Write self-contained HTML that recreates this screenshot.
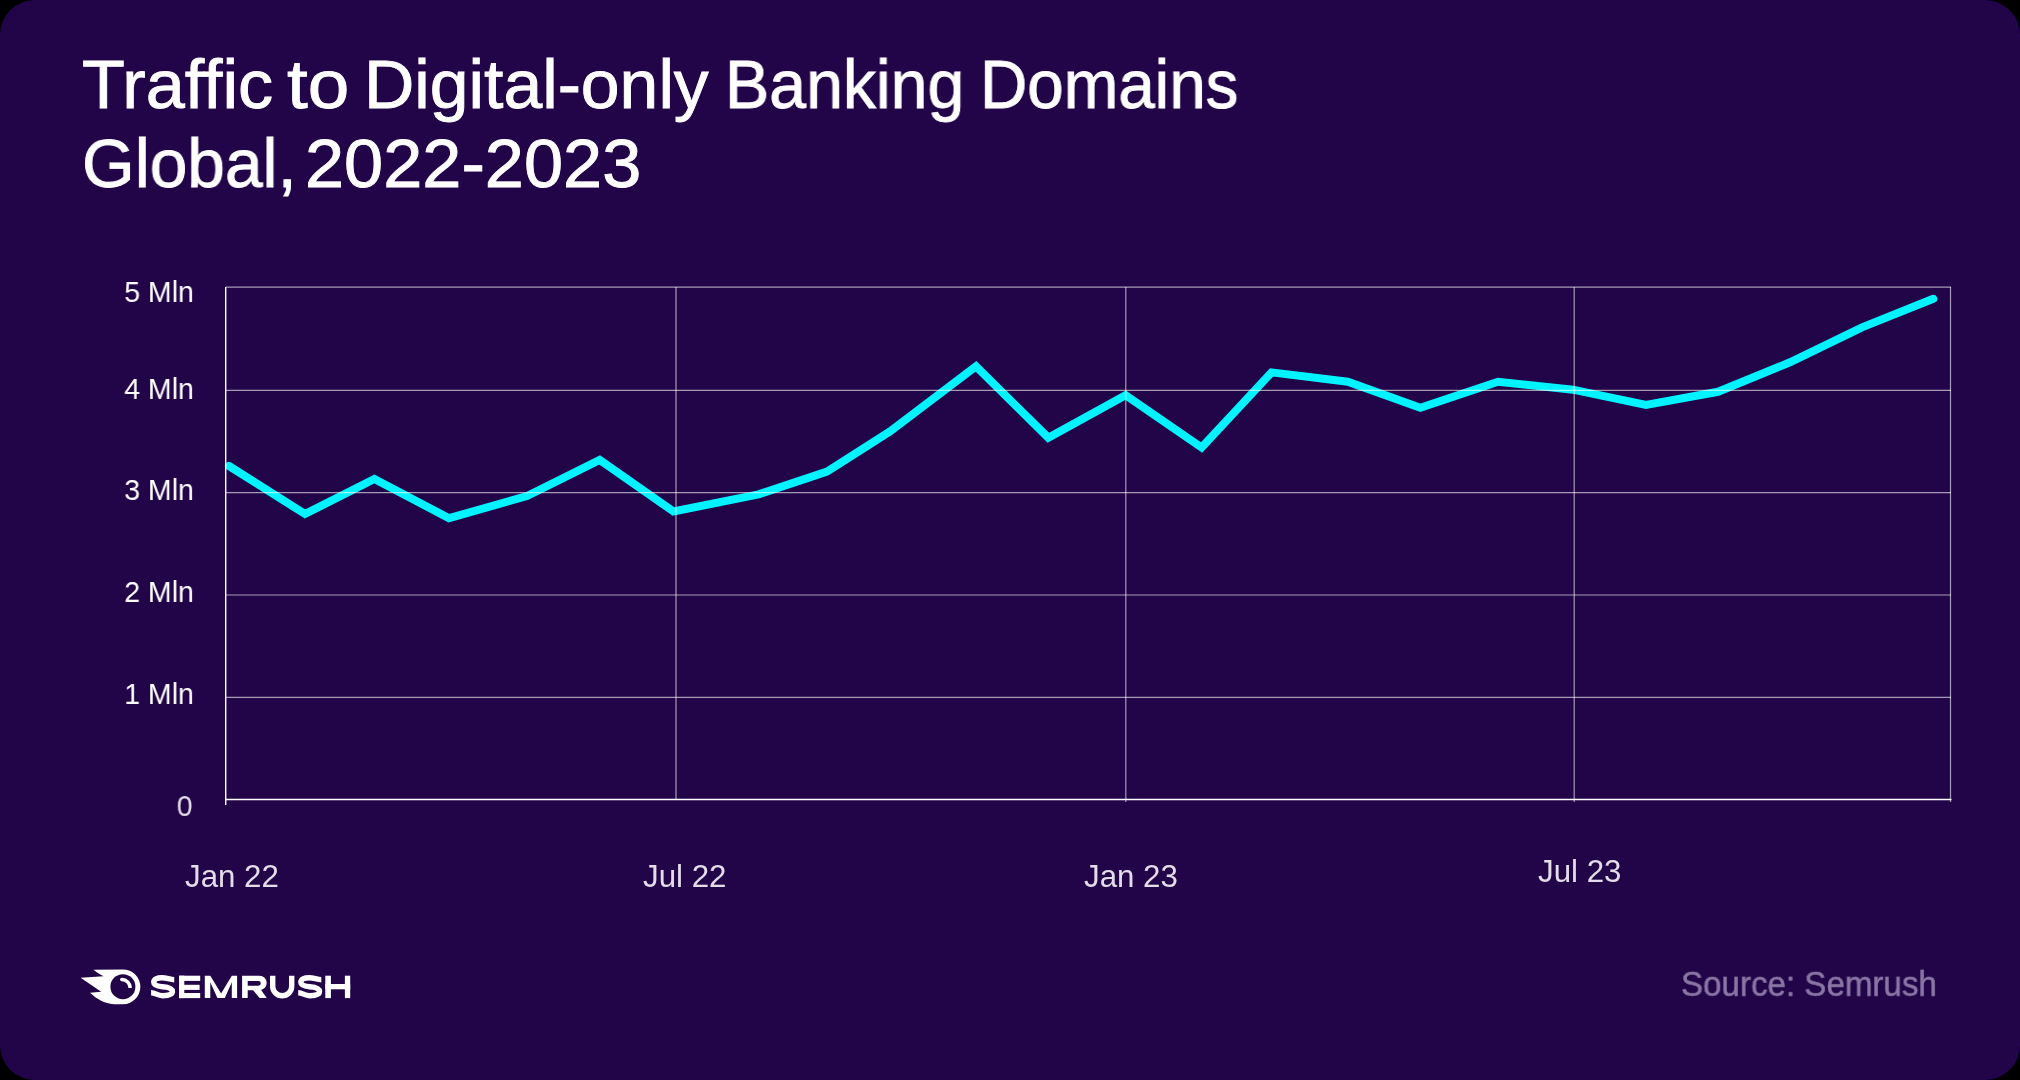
<!DOCTYPE html>
<html>
<head>
<meta charset="utf-8">
<style>
html,body{margin:0;padding:0;background:#000;width:2020px;height:1080px;overflow:hidden;}
#card{position:absolute;left:0;top:0;width:2020px;height:1080px;background:#220548;border-radius:35px;overflow:hidden;}
.t{position:absolute;font-family:"Liberation Sans",sans-serif;white-space:nowrap;line-height:1;will-change:transform;}
.title{color:#fff;font-size:69px;transform-origin:0 0;-webkit-text-stroke:0.9px #fff;}
.yl{color:#fff;font-size:29.8px;right:1826.5px;text-align:right;transform-origin:100% 50%;transform:scaleX(0.955);}
.xl{color:#e4dde9;font-size:31.25px;}
svg{position:absolute;left:0;top:0;}
</style>
</head>
<body>
<div id="card">
  <div class="t title" style="left:81.90px;top:50.3px;transform:scale(1.017,1);">Traffic</div>
  <div class="t title" style="left:287.10px;top:50.3px;transform:scale(1.082,1);">to</div>
  <div class="t title" style="left:364.05px;top:50.3px;transform:scale(1.010,1);">Digital-only</div>
  <div class="t title" style="left:724.90px;top:50.3px;transform:scale(0.960,1);">Banking</div>
  <div class="t title" style="left:980.35px;top:50.3px;transform:scale(0.949,1);">Domains</div>
  <div class="t title" style="left:82.16px;top:128.7px;transform:scale(0.981,1);">Global,</div>
  <div class="t title" style="left:305.44px;top:128.7px;transform:scale(1.019,1);">2022-2023</div>

  <svg width="2020" height="1080" viewBox="0 0 2020 1080">
    <polyline fill="none" stroke="#00f4ff" stroke-width="8" stroke-linejoin="miter" stroke-linecap="round"
      points="229,466 305,514 374.4,479 449,518.2 527,496 599.7,460 673.5,511.5 758.5,494.4 827,471.5 890,431.4 976,366.3 1048.3,437.7 1125.6,395.3 1201.6,447.5 1271.5,372.4 1347.8,381.7 1420.3,407.7 1498,381.8 1573,389.7 1646,405 1718,391.8 1790,362.3 1862,327.4 1933.3,298.8"/>
    <g stroke="rgba(255,255,255,0.6)" stroke-width="1.2" fill="none">
      <line x1="226" y1="287.2" x2="1951" y2="287.2"/>
      <line x1="226" y1="390.4" x2="1951" y2="390.4"/>
      <line x1="226" y1="492.6" x2="1951" y2="492.6"/>
      <line x1="226" y1="595" x2="1951" y2="595"/>
      <line x1="226" y1="697.3" x2="1951" y2="697.3"/>
      <line x1="676" y1="287" x2="676" y2="800"/>
      <line x1="1125.8" y1="287" x2="1125.8" y2="802"/>
      <line x1="1574.2" y1="287" x2="1574.2" y2="802"/>
      <line x1="1950.5" y1="287" x2="1950.5" y2="802"/>
    </g>
    <g stroke="#fff" stroke-width="1.4" fill="none">
      <line x1="225.7" y1="287" x2="225.7" y2="805"/>
      <line x1="225" y1="799.5" x2="1951.5" y2="799.5"/>
    </g>
  </svg>

  <div class="t yl" style="top:277px;">5 Mln</div>
  <div class="t yl" style="top:374px;">4 Mln</div>
  <div class="t yl" style="top:475px;">3 Mln</div>
  <div class="t yl" style="top:577px;">2 Mln</div>
  <div class="t yl" style="top:679px;">1 Mln</div>
  <div class="t yl" style="top:791px;right:1827.5px;color:#e4dde9;">0</div>

  <div class="t xl" style="left:185px;top:860.5px;">Jan 22</div>
  <div class="t xl" style="left:643px;top:860.5px;">Jul 22</div>
  <div class="t xl" style="left:1084px;top:860.5px;">Jan 23</div>
  <div class="t xl" style="left:1538px;top:855.5px;">Jul 23</div>

  <!-- logo -->
  <svg width="2020" height="1080" viewBox="0 0 2020 1080">
    <path fill="#fff" d="M93.5,969.8 L123,969.5 A17.35,17.35 0 0 1 123,1004.2 L114,1004.2 C104.5,1004 96,998.5 90,992.8 L101.2,991.7 L80.6,977.8 L103.5,976.3 C100,974.6 96.2,972.3 93.5,969.8 Z"/>
    <circle cx="122.9" cy="986.7" r="12.5" fill="#220548"/>
    <path d="M121.8,979.6 A8.4,8.4 0 0 1 130.2,988" stroke="#fff" stroke-width="3.5" fill="none"/>
    <circle cx="121.8" cy="979.6" r="1.75" fill="#fff"/>
  </svg>
  <svg width="2020" height="1080" viewBox="0 0 2020 1080">
    <g fill="#fff">
      <path fill="none" stroke="#fff" stroke-width="5.4" d="M174.20,979.7 C170.00,979.7 166.50,977.7 162.00,977.7 C157.00,977.7 153.70,979.4 153.70,982.1 C153.70,985.3 157.00,986.3 162.50,986.8 C168.50,987.3 172.40,988.5 172.40,991.6 C172.40,994.6 168.00,995.7 162.50,995.7 C157.50,995.7 155.50,992.7 151.10,992.7"/>
      <rect x="179.1" y="975.7" width="5.2" height="22.4"/>
      <rect x="179.1" y="975.7" width="21.1" height="5.2"/>
      <rect x="179.1" y="984.8" width="20.5" height="5.1"/>
      <rect x="179.1" y="993" width="21.1" height="5.1"/>
      <path d="M204.8,975.7 H210.3 L221.1,993.4 L231.8,975.7 H237.1 V998.1 H231.8 V982.3 L224.8,998.1 H217.4 L210.3,982.3 V998.1 H204.8 Z"/>
      <path fill-rule="evenodd" d="M242.1,975.7 H259.45 A7.25,7.25 0 0 1 259.45,990.2 H247.7 V998.1 H242.1 Z M247.7,981 V985.7 H258.45 A2.35,2.35 0 0 0 258.45,981 Z"/>
      <path d="M253,990 H261.1 L266.7,998.1 H259.6 Z"/>
      <path d="M270,975.7 V986.3 A12.2,12.2 0 0 0 294.4,986.3 V975.7 H289 V986.3 A6.8,6.8 0 0 1 275.4,986.3 V975.7 Z"/>
      <path fill="none" stroke="#fff" stroke-width="5.4" d="M321.30,979.7 C317.10,979.7 313.60,977.7 309.10,977.7 C304.10,977.7 300.80,979.4 300.80,982.1 C300.80,985.3 304.10,986.3 309.60,986.8 C315.60,987.3 319.50,988.5 319.50,991.6 C319.50,994.6 315.10,995.7 309.60,995.7 C304.60,995.7 302.60,992.7 298.20,992.7"/>
      <rect x="325.3" y="975.7" width="5.6" height="22.4"/>
      <rect x="344.9" y="975.7" width="5.3" height="22.4"/>
      <rect x="325.3" y="984" width="24.9" height="5.3"/>
    </g>
  </svg>

  <div class="t" style="left:1681px;top:966px;font-size:33.8px;color:#8a77a5;-webkit-text-stroke:0.5px #8a77a5;transform-origin:0 0;transform:scale(0.98,1.05);">Source: Semrush</div>
</div>
</body>
</html>
